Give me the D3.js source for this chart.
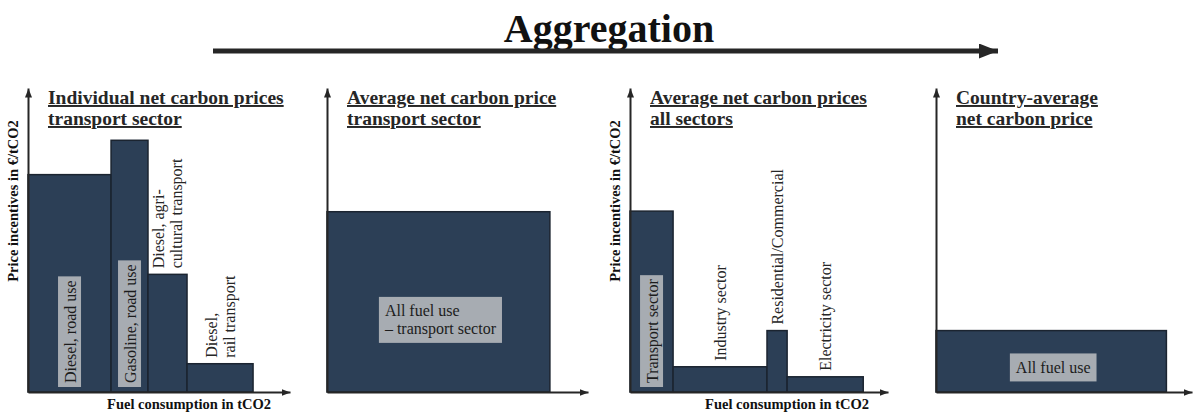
<!DOCTYPE html>
<html>
<head>
<meta charset="utf-8">
<script src="https://cdn.jsdelivr.net/npm/d3@7"></script>
<style>
  body { margin: 0; background: #fff; }
  svg { display: block; font-family: "Liberation Serif", "DejaVu Serif", serif; }
</style>
</head>
<body>
<svg id="chart" width="1194" height="414"></svg>
<script>
// panel 1: individual fuels in the transport sector
const p1Labels = [["Diesel, road use"], ["Gasoline, road use"], ["Diesel, agri-", "cultural transport"], ["Diesel,", "rail transport"]];
const p1Fuel = [31.7, 14.1, 14.9, 25.2];
const p1Price = [71.5, 82.8, 38.7, 9.3];

// panel 2: transport sector average
const p2Labels = [["All fuel use", "– transport sector"]];
const p2Fuel = [85.4];
const p2Price = [59.3];

// panel 3: sector averages
const p3Labels = [["Transport sector"], ["Industry sector"], ["Residential/Commercial"], ["Electricity sector"]];
const p3Fuel = [16.7, 36.4, 7.8, 29.5];
const p3Price = [59.5, 8.3, 20.2, 5.0];

// panel 4: country average
const p4Labels = [["All fuel use"]];
const p4Fuel = [90];
const p4Price = [20.2];

const titles = [
    ["Individual net carbon prices", "transport sector"],
    ["Average net carbon price", "transport sector"],
    ["Average net carbon prices", "all sectors"],
    ["Country-average", "net carbon price"]
];
const yLabel = "Price incentives in €/tCO2";
const xLabel = "Fuel consumption in tCO2";
const header = "Aggregation";

const svg = d3.select("#chart");
const barFill = "#2c3f56";
const boxFill = "#a7acb2";
const ink = "#262626";

// arrow heads (fixed pixel sizes)
function addMarker(id, w, h) {
    svg.append("defs").append("marker")
        .attr("id", id)
        .attr("viewBox", `0 0 ${w} ${h}`)
        .attr("refX", w).attr("refY", h / 2)
        .attr("markerWidth", w).attr("markerHeight", h)
        .attr("markerUnits", "userSpaceOnUse")
        .attr("orient", "auto")
        .append("path").attr("d", `M0,0L${w},${h / 2}L0,${h}z`).attr("fill", ink);
}
addMarker("arrow", 9, 7);
addMarker("arrowBig", 19, 15);

// header
svg.append("text")
    .attr("x", 609).attr("y", 42)
    .attr("text-anchor", "middle")
    .attr("font-size", 40).attr("font-weight", "bold")
    .attr("fill", "#111")
    .text(header);
svg.append("line")
    .attr("x1", 213).attr("x2", 998)
    .attr("y1", 51).attr("y2", 51)
    .attr("stroke", ink).attr("stroke-width", 5)
    .attr("marker-end", "url(#arrowBig)");

const panels = [
    { labels: p1Labels, fuel: p1Fuel, price: p1Price, x0: 28, x1: 290, axisText: true },
    { labels: p2Labels, fuel: p2Fuel, price: p2Price, x0: 327, x1: 588, axisText: false },
    { labels: p3Labels, fuel: p3Fuel, price: p3Price, x0: 630, x1: 888, axisText: true },
    { labels: p4Labels, fuel: p4Fuel, price: p4Price, x0: 936, x1: 1192, axisText: false }
];

const yBottom = 392, yTop = 88;
const labelSize = 16;

panels.forEach((p, pi) => {
    const g = svg.append("g");
    const x = d3.scaleLinear().domain([0, 100]).range([p.x0, p.x1]);
    const y = d3.scaleLinear().domain([0, 100]).range([yBottom, yTop]);

    const ends = d3.cumsum(p.fuel);
    const bars = p.fuel.map((f, i) => ({
        start: ends[i] - f, end: ends[i], price: p.price[i], label: p.labels[i]
    }));

    g.selectAll(".bar")
        .data(bars)
        .join("rect")
        .attr("class", "bar")
        .attr("x", d => x(d.start))
        .attr("y", d => y(d.price))
        .attr("width", d => x(d.end) - x(d.start))
        .attr("height", d => y(0) - y(d.price))
        .attr("fill", barFill)
        .attr("stroke", "#1b2430")
        .attr("stroke-width", 1.5);

    // axes without ticks, just the arrowed domain lines
    const gx = g.append("g")
        .attr("transform", `translate(0,${yBottom})`)
        .call(d3.axisBottom(x).ticks(0).tickSizeOuter(0));
    const gy = g.append("g")
        .attr("transform", `translate(${p.x0},0)`)
        .call(d3.axisLeft(y).ticks(0).tickSizeOuter(0));
    [gx, gy].forEach(a => a.select(".domain")
        .attr("stroke", ink).attr("stroke-width", 2)
        .attr("marker-end", "url(#arrow)"));

    // panel title
    const t = g.append("text")
        .attr("x", p.x0 + 20).attr("y", 104)
        .attr("font-size", 19.5).attr("font-weight", "bold")
        .attr("fill", ink)
        .style("text-decoration", "underline");
    titles[pi].forEach((line, li) => {
        t.append("tspan").attr("x", p.x0 + 20).attr("dy", li === 0 ? 0 : 21).text(line);
    });

    if (p.axisText) {
        g.append("text")
            .attr("transform", `translate(${p.x0 - 10},${(yBottom + 10) / 2}) rotate(-90)`)
            .attr("text-anchor", "middle")
            .attr("font-size", 14.5).attr("font-weight", "bold")
            .attr("fill", "#111")
            .text(yLabel);
        g.append("text")
            .attr("x", p.x1 - 19).attr("y", 409)
            .attr("text-anchor", "end")
            .attr("font-size", 14.5).attr("font-weight", "bold")
            .attr("fill", "#111")
            .text(xLabel);
    }

    // labels
    bars.forEach(d => {
        const cx = (x(d.start) + x(d.end)) / 2;
        const top = y(d.price);
        if (bars.length === 1) {
            // horizontal box inside a single bar
            const lh = 18;
            const cy = top + (yBottom - top) * 0.6;
            const lg = g.append("g");
            const rect = lg.append("rect").attr("fill", boxFill);
            const txt = lg.append("text")
                .attr("font-size", labelSize).attr("fill", "#1c1c1c");
            const n = d.label.length;
            d.label.forEach((line, li) => {
                txt.append("tspan")
                    .attr("y", cy + (li - (n - 1) / 2) * lh)
                    .attr("dominant-baseline", "central")
                    .text(line);
            });
            const w = d3.max(txt.selectAll("tspan").nodes(), nd => nd.getComputedTextLength());
            const left = cx - w / 2 + 2;
            txt.selectAll("tspan").attr("x", left);
            rect.attr("x", left - 6).attr("width", w + 12)
                .attr("y", cy - n * lh / 2 - 5).attr("height", n * lh + 10);
        } else {
            const lg = g.append("g");
            const lines = d.label.map((line, li) => lg.append("text")
                .attr("font-size", labelSize)
                .attr("dominant-baseline", "central")
                .text(line));
            const len = d3.max(lines, s => s.node().getComputedTextLength());
            const barH = yBottom - top;
            const n = lines.length;
            if (n === 1 && barH >= len + 24) {
                // grey box standing inside the bar
                const base = yBottom - 5;
                lg.insert("rect", "text")
                    .attr("x", cx - 11.5).attr("width", 23)
                    .attr("y", base - len - 8).attr("height", len + 8)
                    .attr("fill", boxFill);
                lines[0].attr("transform", `translate(${cx + 0.5},${base - 4}) rotate(-90)`)
                    .attr("fill", "#1c1c1c");
            } else {
                // text standing on top of the bar
                const lh = 18;
                lines.forEach((s, li) => {
                    s.attr("transform", `translate(${cx + (li - (n - 1) / 2) * lh},${top - 6}) rotate(-90)`)
                        .attr("fill", ink);
                });
            }
        }
    });
});
</script>
</body>
</html>
